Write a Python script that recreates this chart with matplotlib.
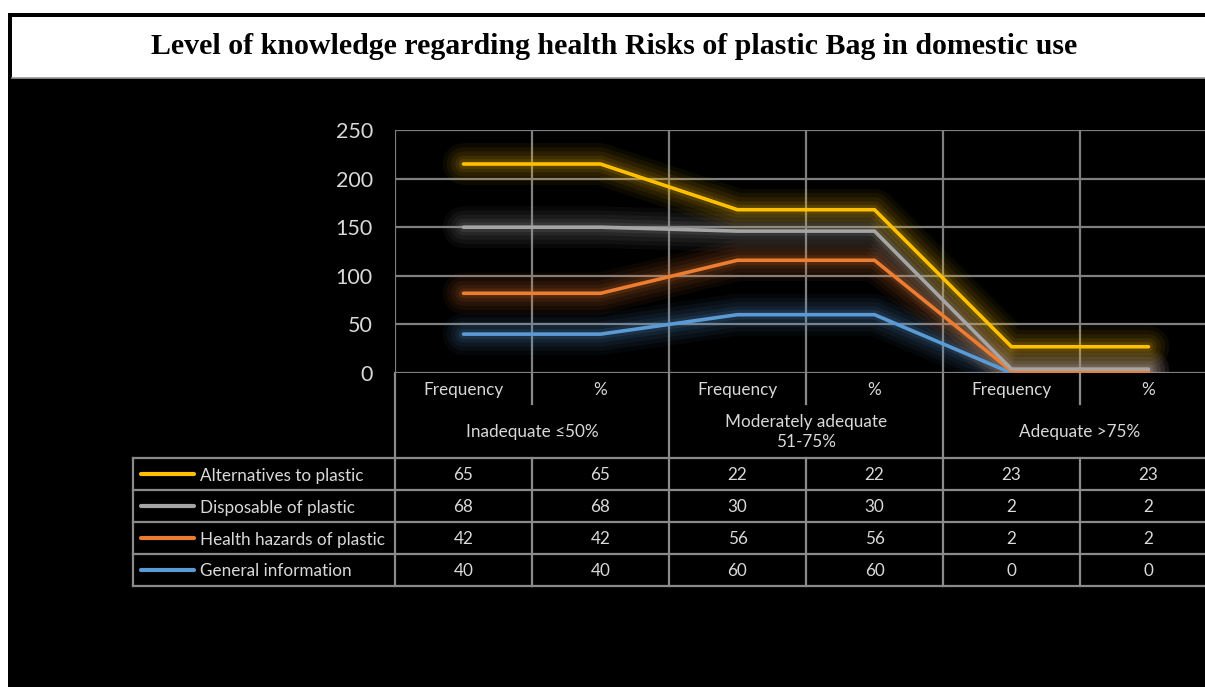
import matplotlib
matplotlib.use("Agg")
import matplotlib.pyplot as plt
from matplotlib.patches import Rectangle
import matplotlib.transforms as mtransforms
import numpy as np

# ---- data ----
categories = ["Frequency", "%", "Frequency", "%", "Frequency", "%"]
groups = ["Inadequate ≤50%", "Moderately adequate\n51-75%", "Adequate >75%"]
series_names = ["Alternatives to plastic", "Disposable of plastic",
                "Health hazards of plastic", "General information"]
alternatives = [65, 65, 22, 22, 23, 23]
disposable = [68, 68, 30, 30, 2, 2]
health = [42, 42, 56, 56, 2, 2]
general = [40, 40, 60, 60, 0, 0]
yticks = [0, 50, 100, 150, 200, 250]
title = "Level of knowledge regarding health Risks of plastic Bag in domestic use"

colors = ["#FFC000", "#A5A5A5", "#ED7D31", "#5B9BD5"]
TXT = "#d9d9d9"
GRID = "#7f7f7f"
FONT = ["Lato", "DejaVu Sans"]

W, H = 1205, 687
fig = plt.figure(figsize=(W / 100, H / 100), dpi=100, facecolor="white")

# overlay axes in pixel coordinates (frame, title, table)
ov = fig.add_axes([0, 0, 1, 1], zorder=0)
ov.set_xlim(0, W)
ov.set_ylim(H, 0)
ov.axis("off")
ov.add_patch(Rectangle((8, 13), W, H, facecolor="black", edgecolor="none"))
ov.add_patch(Rectangle((12, 17), W, 61, facecolor="white", edgecolor="none"))
ov.plot([12, W], [78, 78], color="#9a9a9a", lw=1.2)
ov.text(614, 46, title, ha="center", va="center", fontsize=21.5,
        fontweight="bold", family="Liberation Serif", color="black")

# main plot axes
ax_left, ax_right, ax_top, ax_bot = 395, 395 + 6 * 137, 130, 373
ax = fig.add_axes([ax_left / W, (H - ax_bot) / H, (ax_right - ax_left) / W,
                   (ax_bot - ax_top) / H], zorder=2)
ax.patch.set_alpha(0)
x = np.arange(len(categories))
ax.set_xlim(-0.5, len(categories) - 0.5)
ax.set_ylim(0, 250)
ax.set_yticks(yticks)
ax.set_xticks(np.arange(len(categories) + 1) - 0.5, minor=False)
ax.set_xticklabels([])
ax.tick_params(axis="both", length=0, colors=TXT, labelsize=15.5, pad=16)
for lab in ax.get_yticklabels():
    lab.set_family(FONT)
ax.grid(True, color=GRID, lw=1.6)
for s in ax.spines.values():
    s.set_visible(False)
ax.set_axisbelow(True)

stack_order = [general, health, disposable, alternatives]
stack_colors = colors[::-1]
cum = np.zeros(len(categories))
for vals, c in zip(stack_order, stack_colors):
    cum = cum + np.array(vals)
    for lw, a in [(30, 0.05), (24, 0.06), (18, 0.07), (12, 0.09), (7, 0.12)]:
        ax.plot(x, cum, color=c, lw=lw, alpha=a, solid_joinstyle="round",
                solid_capstyle="round", zorder=3)
    ax.plot(x, cum, color=c, lw=2.6, zorder=4, solid_capstyle="round")

# ---- table (x in axes data units, y in pixels) ----
bt = mtransforms.blended_transform_factory(ax.transData, ov.transData)
edges = np.arange(len(categories) + 1) - 0.5
row_lines = [458, 490, 522, 554, 586]
lc = "#8a8a8a"
tlw = 1.6
for i, e in enumerate(edges):
    if i % 2 == 0:
        ov.plot([e, e], [373, 586], color=lc, lw=tlw, transform=bt, zorder=5)
    else:
        ov.plot([e, e], [373, 404], color=lc, lw=tlw, transform=bt, zorder=5)
        ov.plot([e, e], [458, 586], color=lc, lw=tlw, transform=bt, zorder=5)
ov.plot([133, 133], [458, 586], color=lc, lw=tlw, zorder=5)
for yy in row_lines:
    ov.plot([133, W], [yy, yy], color=lc, lw=tlw, zorder=5)

FS = 12.3
for i, cat in enumerate(categories):
    ov.text(i, 390, cat, transform=bt, ha="center", va="center",
            color=TXT, fontsize=FS, family=FONT)
for g, name in enumerate(groups):
    ov.text(2 * g + 0.5, 432, name, transform=bt, ha="center", va="center",
            color=TXT, fontsize=FS, family=FONT, linespacing=1.3)

table_rows = [alternatives, disposable, health, general]
for r, (name, vals, c) in enumerate(zip(series_names, table_rows, colors)):
    yc = (row_lines[r] + row_lines[r + 1]) / 2
    ov.plot([141, 194], [yc, yc], color=c, lw=3, solid_capstyle="round", zorder=6)
    ov.text(200, yc + 1.5, name, ha="left", va="center", color=TXT,
            fontsize=FS, family=FONT)
    for i, v in enumerate(vals):
        ov.text(i, yc + 1.5, str(v), transform=bt, ha="center", va="center",
                color=TXT, fontsize=FS, family=FONT)

fig.savefig("out.png", dpi=100, facecolor=fig.get_facecolor())
